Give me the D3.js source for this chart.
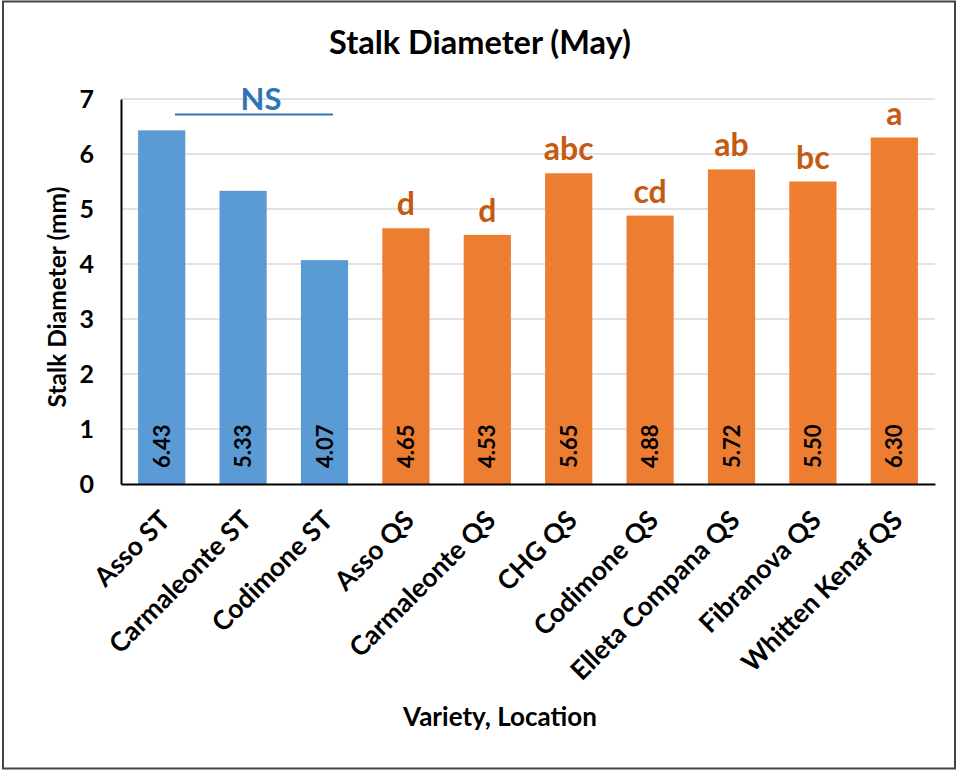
<!DOCTYPE html>
<html><head><meta charset="utf-8">
<script src="https://cdn.jsdelivr.net/npm/d3@7"></script>
<style>body{margin:0;background:#fff}svg{display:block}text{font-family:Lato,"Open Sans",sans-serif;font-weight:bold}</style>
</head><body>
<svg id="c" width="964" height="771"></svg>
<script>
const categories = ["Asso ST","Carmaleonte ST","Codimone ST","Asso QS","Carmaleonte QS","CHG QS","Codimone QS","Elleta Compana QS","Fibranova QS","Whitten Kenaf QS"];
const values = [6.43,5.33,4.07,4.65,4.53,5.65,4.88,5.72,5.50,6.30];
const locations = ["ST","ST","ST","QS","QS","QS","QS","QS","QS","QS"];
const letters = ["","","","d","d","abc","cd","ab","bc","a"];
const yTicks = [0,1,2,3,4,5,6,7];
const nsLabel = "NS";

const colors = {ST:"#5B9BD5", QS:"#ED7D31"};
const letterColor = "#C55A11";
const nsColor = "#2E75B6";

const svg = d3.select("#c");
svg.append("rect").attr("x",3).attr("y",1.5).attr("width",952).attr("height",767)
  .attr("fill","#fff").attr("stroke","#444").attr("stroke-width",2);

const m = {l:121, r:935, t:99, b:484};
const x = d3.scaleBand().domain(categories).range([m.l,m.r]).paddingInner(0.42).paddingOuter(0.21);
const y = d3.scaleLinear().domain([0,7]).range([m.b,m.t]);

// gridlines
svg.append("g").selectAll("line").data(yTicks.filter(d=>d>0)).join("line")
  .attr("x1",m.l).attr("x2",m.r).attr("y1",d=>y(d)).attr("y2",d=>y(d))
  .attr("stroke","#d9d9d9").attr("stroke-width",1.5);

// y axis
const ya = svg.append("g").attr("transform",`translate(${m.l},0)`)
  .call(d3.axisLeft(y).tickValues(yTicks).tickFormat(d3.format("d")).tickSize(0).tickPadding(27));
ya.select(".domain").attr("stroke","#000").attr("stroke-width",2);
ya.selectAll("text").attr("font-size",25).attr("fill","#000").attr("font-family","Lato").attr("font-weight","bold");

// bars
svg.append("g").selectAll("rect").data(categories).join("rect")
  .attr("x",d=>x(d)).attr("width",x.bandwidth())
  .attr("y",(d,i)=>y(values[i])).attr("height",(d,i)=>y(0)-y(values[i]))
  .attr("fill",(d,i)=>colors[locations[i]]);

// x axis
const xa = svg.append("g").attr("transform",`translate(0,${m.b})`)
  .call(d3.axisBottom(x).tickSize(0).tickPadding(0));
xa.select(".domain").attr("stroke","#000").attr("stroke-width",2);
xa.selectAll("text").attr("font-size",26.5).attr("fill","#000").attr("font-family","Lato").attr("font-weight","bold")
  .attr("text-anchor","end").attr("dy",null).attr("y",null)
  .attr("transform","translate(10,38) rotate(-45)");

// value labels inside bars
svg.append("g").selectAll("text").data(categories).join("text")
  .attr("transform",(d,i)=>`translate(${x(d)+x.bandwidth()/2+8},${y(0)-16}) rotate(-90)`)
  .attr("font-size",22).attr("fill","#000")
  .text((d,i)=>values[i].toFixed(2));

// letters
svg.append("g").selectAll("text").data(categories).join("text")
  .attr("x",d=>x(d)+x.bandwidth()/2).attr("y",(d,i)=>y(values[i])-13)
  .attr("text-anchor","middle").attr("font-size",32).attr("fill",letterColor)
  .text((d,i)=>letters[i]);

// NS
svg.append("line").attr("x1",175).attr("x2",333).attr("y1",y(6.72)).attr("y2",y(6.72))
  .attr("stroke",nsColor).attr("stroke-width",2);
svg.append("text").attr("x",(175+333)/2+7).attr("y",110).attr("text-anchor","middle")
  .attr("font-size",31).attr("fill",nsColor).text(nsLabel);

// titles
svg.append("text").attr("x",480).attr("y",54).attr("text-anchor","middle").attr("font-size",32.5).attr("fill","#000").text("Stalk Diameter (May)");
svg.append("text").attr("transform","translate(66,297) rotate(-90)").attr("text-anchor","middle").attr("font-size",24.5).attr("fill","#000").text("Stalk Diameter (mm)");
svg.append("text").attr("x",500).attr("y",726).attr("text-anchor","middle").attr("font-size",26).attr("fill","#000").text("Variety, Location");
</script></body></html>
